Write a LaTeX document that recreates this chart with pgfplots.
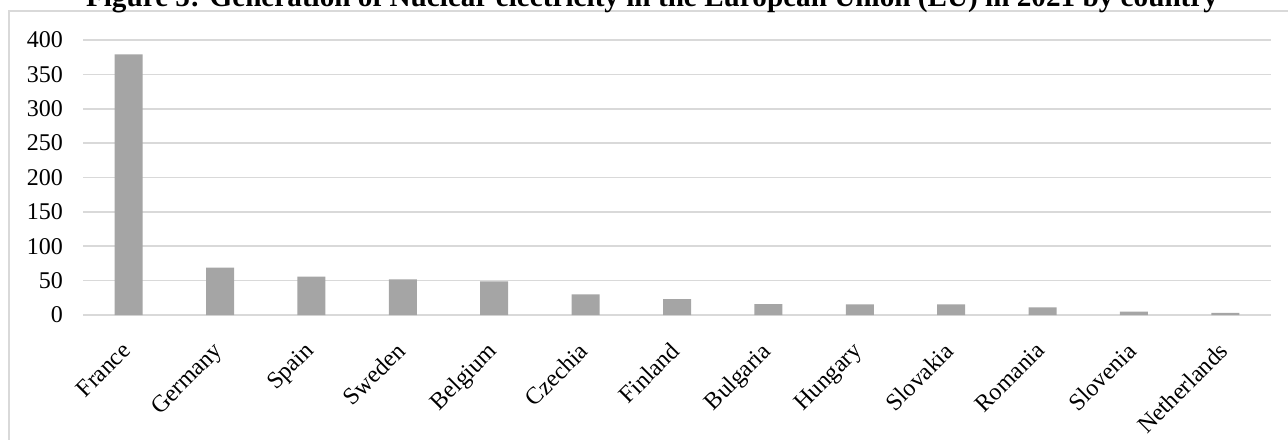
\documentclass[border=0pt]{standalone}
\usepackage{pgfplots}
\pgfplotsset{compat=1.18}
\usepackage{fontspec}
\setmainfont{Liberation Serif}

\definecolor{bargray}{HTML}{A5A5A5}
\definecolor{gridgray}{HTML}{D9D9D9}

\begin{document}
\begin{tikzpicture}
  \path[use as bounding box] (0pt,0pt) rectangle (644pt,219.5pt);
  % chart frame
  \draw[gridgray, line width=0.8pt] (4.5pt,-10pt) rectangle (660pt,213.9pt);
  % title
  \node[anchor=base, inner sep=0pt, font=\fontsize{14.6}{16}\selectfont\bfseries]
    at (326pt,216pt) {Figure 5: Generation of Nuclear electricity in the European Union (EU) in 2021 by country};
  \begin{axis}[
    at={(41.5pt,62pt)}, anchor=south west,
    scale only axis,
    width=594pt, height=137.5pt,
    xmin=-0.5, xmax=12.5,
    ymin=0, ymax=400,
    ytick={0,50,...,400},
    xtick={0,...,12},
    xticklabels={France,Germany,Spain,Sweden,Belgium,Czechia,Finland,Bulgaria,Hungary,Slovakia,Romania,Slovenia,Netherlands},
    axis line style={draw=none},
    major tick length=0pt,
    ymajorgrids,
    grid style={gridgray, line width=0.8pt},
    tick label style={font=\fontsize{12}{14}\selectfont},
    /pgf/number format/assume math mode=true,
    yticklabel style={xshift=-6.5pt},
    xticklabel style={xshift=-4pt, yshift=-8pt, rotate=45, anchor=north east},
    ybar, bar width=14pt,
  ]
    \addplot[fill=bargray, draw=none] coordinates {
      (0,379) (1,69) (2,56) (3,52) (4,49) (5,30) (6,23)
      (7,16) (8,15.5) (9,15.5) (10,11) (11,5) (12,3)
    };
  \end{axis}
\end{tikzpicture}
\end{document}
